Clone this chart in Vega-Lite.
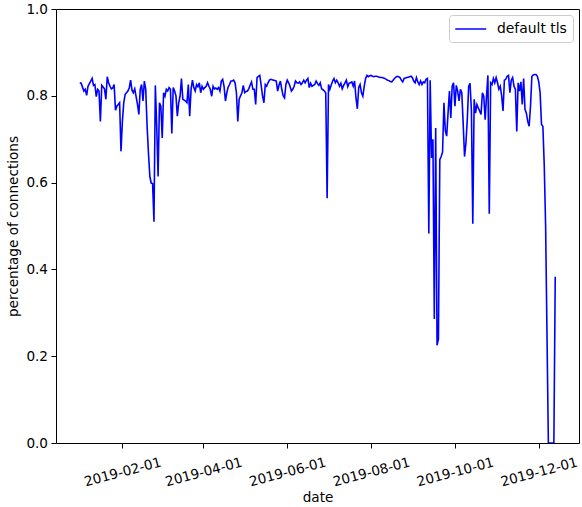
{
  "$schema": "https://vega.github.io/schema/vega-lite/v6.json",
  "width": 523,
  "height": 434,
  "autosize": {"type": "none"},
  "padding": {"left": 56, "top": 9, "right": 3, "bottom": 64},
  "background": "white",
  "config": {
    "font": "DejaVu Sans",
    "view": {"stroke": "black", "strokeWidth": 1},
    "axis": {
      "grid": false,
      "domain": false,
      "ticks": true,
      "tickColor": "black",
      "tickSize": 5,
      "tickWidth": 1,
      "labelColor": "black",
      "labelFont": "DejaVu Sans",
      "labelFontSize": 13.6,
      "titleColor": "black",
      "titleFont": "DejaVu Sans",
      "titleFontSize": 13.6,
      "titleFontWeight": "normal"
    },
    "legend": {
      "orient": "top-right",
      "offset": 6,
      "padding": 5.5,
      "fillColor": "white",
      "strokeColor": "#cccccc",
      "cornerRadius": 3,
      "symbolType": "M-1,0H3",
      "symbolSize": 240,
      "symbolStrokeWidth": 1.5,
      "labelFont": "DejaVu Sans",
      "labelFontSize": 13.9,
      "labelColor": "black",
      "labelOffset": 25.5
    }
  },
  "data": {
    "values": [
      {"date": "2019-01-01", "v": 0.830}, {"date": "2019-01-02", "v": 0.829}, {"date": "2019-01-03", "v": 0.820},
      {"date": "2019-01-04", "v": 0.811}, {"date": "2019-01-05", "v": 0.815}, {"date": "2019-01-06", "v": 0.801},
      {"date": "2019-01-07", "v": 0.822}, {"date": "2019-01-08", "v": 0.828}, {"date": "2019-01-09", "v": 0.834},
      {"date": "2019-01-10", "v": 0.840}, {"date": "2019-01-11", "v": 0.824}, {"date": "2019-01-12", "v": 0.826},
      {"date": "2019-01-13", "v": 0.798}, {"date": "2019-01-14", "v": 0.815}, {"date": "2019-01-15", "v": 0.811},
      {"date": "2019-01-16", "v": 0.741}, {"date": "2019-01-17", "v": 0.824}, {"date": "2019-01-18", "v": 0.820},
      {"date": "2019-01-19", "v": 0.816}, {"date": "2019-01-20", "v": 0.792}, {"date": "2019-01-21", "v": 0.844},
      {"date": "2019-01-22", "v": 0.830}, {"date": "2019-01-23", "v": 0.822}, {"date": "2019-01-24", "v": 0.816},
      {"date": "2019-01-25", "v": 0.818}, {"date": "2019-01-26", "v": 0.826}, {"date": "2019-01-27", "v": 0.767},
      {"date": "2019-01-28", "v": 0.776}, {"date": "2019-01-29", "v": 0.780}, {"date": "2019-01-30", "v": 0.784},
      {"date": "2019-01-31", "v": 0.672},
      {"date": "2019-02-01", "v": 0.740}, {"date": "2019-02-02", "v": 0.784}, {"date": "2019-02-03", "v": 0.803},
      {"date": "2019-02-04", "v": 0.807}, {"date": "2019-02-05", "v": 0.811}, {"date": "2019-02-06", "v": 0.818},
      {"date": "2019-02-07", "v": 0.836}, {"date": "2019-02-08", "v": 0.813}, {"date": "2019-02-09", "v": 0.807},
      {"date": "2019-02-10", "v": 0.816}, {"date": "2019-02-11", "v": 0.798}, {"date": "2019-02-12", "v": 0.780},
      {"date": "2019-02-13", "v": 0.757}, {"date": "2019-02-14", "v": 0.815}, {"date": "2019-02-15", "v": 0.826},
      {"date": "2019-02-16", "v": 0.788}, {"date": "2019-02-17", "v": 0.834}, {"date": "2019-02-18", "v": 0.815},
      {"date": "2019-02-19", "v": 0.730}, {"date": "2019-02-20", "v": 0.668}, {"date": "2019-02-21", "v": 0.614},
      {"date": "2019-02-22", "v": 0.599}, {"date": "2019-02-23", "v": 0.598}, {"date": "2019-02-24", "v": 0.510},
      {"date": "2019-02-25", "v": 0.824}, {"date": "2019-02-26", "v": 0.730}, {"date": "2019-02-27", "v": 0.614},
      {"date": "2019-02-28", "v": 0.784},
      {"date": "2019-03-01", "v": 0.776}, {"date": "2019-03-02", "v": 0.703}, {"date": "2019-03-03", "v": 0.807},
      {"date": "2019-03-04", "v": 0.799}, {"date": "2019-03-05", "v": 0.815}, {"date": "2019-03-06", "v": 0.811},
      {"date": "2019-03-07", "v": 0.819}, {"date": "2019-03-08", "v": 0.815}, {"date": "2019-03-09", "v": 0.713},
      {"date": "2019-03-10", "v": 0.819}, {"date": "2019-03-11", "v": 0.811}, {"date": "2019-03-12", "v": 0.800},
      {"date": "2019-03-13", "v": 0.753}, {"date": "2019-03-14", "v": 0.784}, {"date": "2019-03-15", "v": 0.799},
      {"date": "2019-03-16", "v": 0.840}, {"date": "2019-03-17", "v": 0.792}, {"date": "2019-03-18", "v": 0.790},
      {"date": "2019-03-19", "v": 0.788}, {"date": "2019-03-20", "v": 0.784}, {"date": "2019-03-21", "v": 0.826},
      {"date": "2019-03-22", "v": 0.753}, {"date": "2019-03-23", "v": 0.815}, {"date": "2019-03-24", "v": 0.836},
      {"date": "2019-03-25", "v": 0.819}, {"date": "2019-03-26", "v": 0.811}, {"date": "2019-03-27", "v": 0.826},
      {"date": "2019-03-28", "v": 0.821}, {"date": "2019-03-29", "v": 0.830}, {"date": "2019-03-30", "v": 0.807},
      {"date": "2019-03-31", "v": 0.822},
      {"date": "2019-04-01", "v": 0.815}, {"date": "2019-04-02", "v": 0.819}, {"date": "2019-04-03", "v": 0.822},
      {"date": "2019-04-04", "v": 0.830}, {"date": "2019-04-05", "v": 0.822}, {"date": "2019-04-06", "v": 0.815},
      {"date": "2019-04-07", "v": 0.799}, {"date": "2019-04-08", "v": 0.822}, {"date": "2019-04-09", "v": 0.816},
      {"date": "2019-04-10", "v": 0.818}, {"date": "2019-04-11", "v": 0.815}, {"date": "2019-04-12", "v": 0.819},
      {"date": "2019-04-13", "v": 0.811}, {"date": "2019-04-14", "v": 0.834}, {"date": "2019-04-15", "v": 0.838},
      {"date": "2019-04-16", "v": 0.822}, {"date": "2019-04-17", "v": 0.788}, {"date": "2019-04-18", "v": 0.807},
      {"date": "2019-04-19", "v": 0.820}, {"date": "2019-04-20", "v": 0.826}, {"date": "2019-04-21", "v": 0.834},
      {"date": "2019-04-22", "v": 0.834}, {"date": "2019-04-23", "v": 0.836}, {"date": "2019-04-24", "v": 0.830},
      {"date": "2019-04-25", "v": 0.807}, {"date": "2019-04-26", "v": 0.741}, {"date": "2019-04-27", "v": 0.792},
      {"date": "2019-04-28", "v": 0.800}, {"date": "2019-04-29", "v": 0.807}, {"date": "2019-04-30", "v": 0.824},
      {"date": "2019-05-01", "v": 0.807}, {"date": "2019-05-02", "v": 0.810}, {"date": "2019-05-03", "v": 0.811},
      {"date": "2019-05-04", "v": 0.816}, {"date": "2019-05-05", "v": 0.825}, {"date": "2019-05-06", "v": 0.832},
      {"date": "2019-05-07", "v": 0.815}, {"date": "2019-05-08", "v": 0.815}, {"date": "2019-05-09", "v": 0.780},
      {"date": "2019-05-10", "v": 0.842}, {"date": "2019-05-11", "v": 0.845}, {"date": "2019-05-12", "v": 0.847},
      {"date": "2019-05-13", "v": 0.824}, {"date": "2019-05-14", "v": 0.800}, {"date": "2019-05-15", "v": 0.784},
      {"date": "2019-05-16", "v": 0.826}, {"date": "2019-05-17", "v": 0.822}, {"date": "2019-05-18", "v": 0.830},
      {"date": "2019-05-19", "v": 0.836}, {"date": "2019-05-20", "v": 0.838}, {"date": "2019-05-21", "v": 0.837},
      {"date": "2019-05-22", "v": 0.836}, {"date": "2019-05-23", "v": 0.835}, {"date": "2019-05-24", "v": 0.834},
      {"date": "2019-05-25", "v": 0.811}, {"date": "2019-05-26", "v": 0.825}, {"date": "2019-05-27", "v": 0.834},
      {"date": "2019-05-28", "v": 0.815}, {"date": "2019-05-29", "v": 0.800}, {"date": "2019-05-30", "v": 0.795},
      {"date": "2019-05-31", "v": 0.826},
      {"date": "2019-06-01", "v": 0.836}, {"date": "2019-06-02", "v": 0.830}, {"date": "2019-06-03", "v": 0.822},
      {"date": "2019-06-04", "v": 0.811}, {"date": "2019-06-05", "v": 0.815}, {"date": "2019-06-06", "v": 0.822},
      {"date": "2019-06-07", "v": 0.834}, {"date": "2019-06-08", "v": 0.830}, {"date": "2019-06-09", "v": 0.829},
      {"date": "2019-06-10", "v": 0.832}, {"date": "2019-06-11", "v": 0.826}, {"date": "2019-06-12", "v": 0.830},
      {"date": "2019-06-13", "v": 0.836}, {"date": "2019-06-14", "v": 0.830}, {"date": "2019-06-15", "v": 0.836},
      {"date": "2019-06-16", "v": 0.840}, {"date": "2019-06-17", "v": 0.819}, {"date": "2019-06-18", "v": 0.829},
      {"date": "2019-06-19", "v": 0.822}, {"date": "2019-06-20", "v": 0.824}, {"date": "2019-06-21", "v": 0.826},
      {"date": "2019-06-22", "v": 0.834}, {"date": "2019-06-23", "v": 0.828}, {"date": "2019-06-24", "v": 0.824},
      {"date": "2019-06-25", "v": 0.830}, {"date": "2019-06-26", "v": 0.816}, {"date": "2019-06-27", "v": 0.814},
      {"date": "2019-06-28", "v": 0.811}, {"date": "2019-06-29", "v": 0.807}, {"date": "2019-06-30", "v": 0.564},
      {"date": "2019-07-01", "v": 0.826}, {"date": "2019-07-02", "v": 0.815}, {"date": "2019-07-03", "v": 0.825},
      {"date": "2019-07-04", "v": 0.834}, {"date": "2019-07-05", "v": 0.840}, {"date": "2019-07-06", "v": 0.830},
      {"date": "2019-07-07", "v": 0.836}, {"date": "2019-07-08", "v": 0.830}, {"date": "2019-07-09", "v": 0.822},
      {"date": "2019-07-10", "v": 0.829}, {"date": "2019-07-11", "v": 0.816}, {"date": "2019-07-12", "v": 0.824},
      {"date": "2019-07-13", "v": 0.830}, {"date": "2019-07-14", "v": 0.836}, {"date": "2019-07-15", "v": 0.821},
      {"date": "2019-07-16", "v": 0.829}, {"date": "2019-07-17", "v": 0.830}, {"date": "2019-07-18", "v": 0.832},
      {"date": "2019-07-19", "v": 0.822}, {"date": "2019-07-20", "v": 0.834}, {"date": "2019-07-21", "v": 0.795},
      {"date": "2019-07-22", "v": 0.770}, {"date": "2019-07-23", "v": 0.819}, {"date": "2019-07-24", "v": 0.826},
      {"date": "2019-07-25", "v": 0.807}, {"date": "2019-07-26", "v": 0.799}, {"date": "2019-07-27", "v": 0.822},
      {"date": "2019-07-28", "v": 0.840}, {"date": "2019-07-29", "v": 0.847}, {"date": "2019-07-30", "v": 0.844},
      {"date": "2019-07-31", "v": 0.846},
      {"date": "2019-08-01", "v": 0.847}, {"date": "2019-08-02", "v": 0.845}, {"date": "2019-08-03", "v": 0.844},
      {"date": "2019-08-04", "v": 0.845}, {"date": "2019-08-05", "v": 0.845}, {"date": "2019-08-06", "v": 0.844},
      {"date": "2019-08-07", "v": 0.843}, {"date": "2019-08-08", "v": 0.842}, {"date": "2019-08-09", "v": 0.842},
      {"date": "2019-08-10", "v": 0.841}, {"date": "2019-08-11", "v": 0.840}, {"date": "2019-08-12", "v": 0.838},
      {"date": "2019-08-13", "v": 0.836}, {"date": "2019-08-14", "v": 0.835}, {"date": "2019-08-15", "v": 0.833},
      {"date": "2019-08-16", "v": 0.832}, {"date": "2019-08-17", "v": 0.836}, {"date": "2019-08-18", "v": 0.840},
      {"date": "2019-08-19", "v": 0.843}, {"date": "2019-08-20", "v": 0.845}, {"date": "2019-08-21", "v": 0.844},
      {"date": "2019-08-22", "v": 0.842}, {"date": "2019-08-23", "v": 0.836}, {"date": "2019-08-24", "v": 0.832},
      {"date": "2019-08-25", "v": 0.840}, {"date": "2019-08-26", "v": 0.841}, {"date": "2019-08-27", "v": 0.842},
      {"date": "2019-08-28", "v": 0.843}, {"date": "2019-08-29", "v": 0.844}, {"date": "2019-08-30", "v": 0.845},
      {"date": "2019-08-31", "v": 0.842},
      {"date": "2019-09-01", "v": 0.834}, {"date": "2019-09-02", "v": 0.830}, {"date": "2019-09-03", "v": 0.842},
      {"date": "2019-09-04", "v": 0.832}, {"date": "2019-09-05", "v": 0.826}, {"date": "2019-09-06", "v": 0.834},
      {"date": "2019-09-07", "v": 0.826}, {"date": "2019-09-08", "v": 0.832}, {"date": "2019-09-09", "v": 0.830},
      {"date": "2019-09-10", "v": 0.838}, {"date": "2019-09-11", "v": 0.840}, {"date": "2019-09-12", "v": 0.483},
      {"date": "2019-09-13", "v": 0.836}, {"date": "2019-09-14", "v": 0.657}, {"date": "2019-09-15", "v": 0.700},
      {"date": "2019-09-16", "v": 0.286}, {"date": "2019-09-17", "v": 0.726}, {"date": "2019-09-18", "v": 0.225},
      {"date": "2019-09-19", "v": 0.240}, {"date": "2019-09-20", "v": 0.653}, {"date": "2019-09-21", "v": 0.660},
      {"date": "2019-09-22", "v": 0.670}, {"date": "2019-09-23", "v": 0.784}, {"date": "2019-09-24", "v": 0.720},
      {"date": "2019-09-25", "v": 0.707}, {"date": "2019-09-26", "v": 0.760}, {"date": "2019-09-27", "v": 0.811},
      {"date": "2019-09-28", "v": 0.749}, {"date": "2019-09-29", "v": 0.822}, {"date": "2019-09-30", "v": 0.830},
      {"date": "2019-10-01", "v": 0.776}, {"date": "2019-10-02", "v": 0.824}, {"date": "2019-10-03", "v": 0.811},
      {"date": "2019-10-04", "v": 0.788}, {"date": "2019-10-05", "v": 0.815}, {"date": "2019-10-06", "v": 0.807},
      {"date": "2019-10-07", "v": 0.737}, {"date": "2019-10-08", "v": 0.660}, {"date": "2019-10-09", "v": 0.691},
      {"date": "2019-10-10", "v": 0.745}, {"date": "2019-10-11", "v": 0.822}, {"date": "2019-10-12", "v": 0.829},
      {"date": "2019-10-13", "v": 0.766}, {"date": "2019-10-14", "v": 0.505}, {"date": "2019-10-15", "v": 0.792},
      {"date": "2019-10-16", "v": 0.760}, {"date": "2019-10-17", "v": 0.780}, {"date": "2019-10-18", "v": 0.772},
      {"date": "2019-10-19", "v": 0.765}, {"date": "2019-10-20", "v": 0.757}, {"date": "2019-10-21", "v": 0.807},
      {"date": "2019-10-22", "v": 0.799}, {"date": "2019-10-23", "v": 0.745}, {"date": "2019-10-24", "v": 0.799},
      {"date": "2019-10-25", "v": 0.847}, {"date": "2019-10-26", "v": 0.528}, {"date": "2019-10-27", "v": 0.830},
      {"date": "2019-10-28", "v": 0.826}, {"date": "2019-10-29", "v": 0.840}, {"date": "2019-10-30", "v": 0.830},
      {"date": "2019-10-31", "v": 0.842},
      {"date": "2019-11-01", "v": 0.830}, {"date": "2019-11-02", "v": 0.815}, {"date": "2019-11-03", "v": 0.822},
      {"date": "2019-11-04", "v": 0.800}, {"date": "2019-11-05", "v": 0.765}, {"date": "2019-11-06", "v": 0.836},
      {"date": "2019-11-07", "v": 0.838}, {"date": "2019-11-08", "v": 0.845}, {"date": "2019-11-09", "v": 0.847},
      {"date": "2019-11-10", "v": 0.807}, {"date": "2019-11-11", "v": 0.836}, {"date": "2019-11-12", "v": 0.842},
      {"date": "2019-11-13", "v": 0.822}, {"date": "2019-11-14", "v": 0.815}, {"date": "2019-11-15", "v": 0.718},
      {"date": "2019-11-16", "v": 0.830}, {"date": "2019-11-17", "v": 0.811}, {"date": "2019-11-18", "v": 0.832},
      {"date": "2019-11-19", "v": 0.780}, {"date": "2019-11-20", "v": 0.840}, {"date": "2019-11-21", "v": 0.769},
      {"date": "2019-11-22", "v": 0.760}, {"date": "2019-11-23", "v": 0.741}, {"date": "2019-11-24", "v": 0.730},
      {"date": "2019-11-25", "v": 0.776}, {"date": "2019-11-26", "v": 0.845}, {"date": "2019-11-27", "v": 0.848},
      {"date": "2019-11-28", "v": 0.849}, {"date": "2019-11-29", "v": 0.849}, {"date": "2019-11-30", "v": 0.845},
      {"date": "2019-12-01", "v": 0.832}, {"date": "2019-12-02", "v": 0.807}, {"date": "2019-12-03", "v": 0.734},
      {"date": "2019-12-04", "v": 0.730}, {"date": "2019-12-05", "v": 0.640}, {"date": "2019-12-06", "v": 0.500},
      {"date": "2019-12-07", "v": 0.250}, {"date": "2019-12-08", "v": 0.000}, {"date": "2019-12-09", "v": 0.000},
      {"date": "2019-12-10", "v": 0.000}, {"date": "2019-12-11", "v": 0.000}, {"date": "2019-12-12", "v": 0.000},
      {"date": "2019-12-13", "v": 0.383}
    ]
  },
  "mark": {"type": "line", "strokeWidth": 1.6, "interpolate": "linear", "clip": true},
  "encoding": {
    "x": {
      "field": "date",
      "type": "temporal",
      "scale": {
        "type": "utc",
        "domain": [
          {"year": 2018, "month": 12, "date": 14, "hours": 17, "utc": true},
          {"year": 2019, "month": 12, "date": 30, "hours": 7, "utc": true}
        ]
      },
      "axis": {
        "title": "date",
        "format": "%Y-%m-%d",
        "values": [
          {"year": 2019, "month": 2, "date": 1, "utc": true},
          {"year": 2019, "month": 4, "date": 1, "utc": true},
          {"year": 2019, "month": 6, "date": 1, "utc": true},
          {"year": 2019, "month": 8, "date": 1, "utc": true},
          {"year": 2019, "month": 10, "date": 1, "utc": true},
          {"year": 2019, "month": 12, "date": 1, "utc": true}
        ],
        "labelAngle": -15,
        "labelAlign": "center",
        "labelBaseline": "middle",
        "labelPadding": 24,
        "labelOverlap": false,
        "titleY": 54,
        "titleBaseline": "middle"
      }
    },
    "y": {
      "field": "v",
      "type": "quantitative",
      "scale": {"domain": [0, 1], "nice": false, "zero": false},
      "axis": {
        "title": "percentage of connections",
        "format": ".1f",
        "values": [0, 0.2, 0.4, 0.6, 0.8, 1.0],
        "labelPadding": 3.5,
        "titleX": -43,
        "titleY": 217,
        "titleAngle": -90,
        "titleAlign": "center",
        "titleBaseline": "middle"
      }
    },
    "color": {
      "datum": "default tls",
      "type": "nominal",
      "scale": {"range": ["#0000ff"]},
      "legend": {"title": null}
    }
  }
}
